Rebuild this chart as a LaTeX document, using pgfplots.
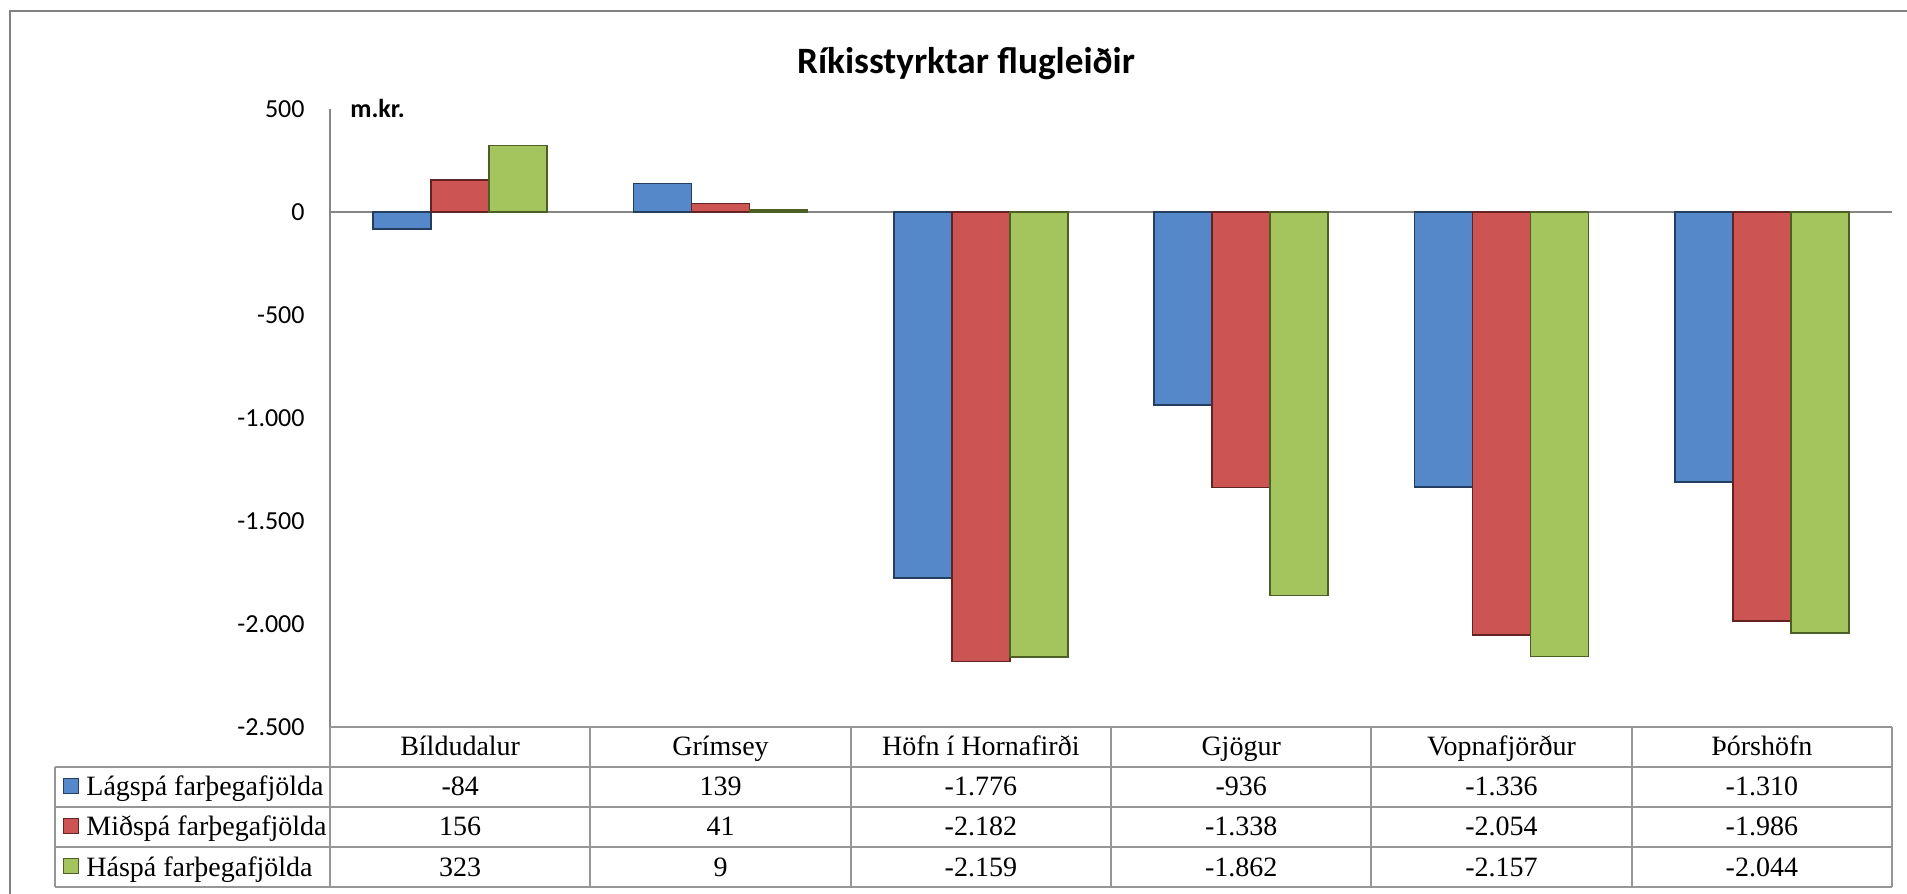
\documentclass[border=0pt]{standalone}
\usepackage{pgfplots}
\pgfplotsset{compat=1.18}
\usepackage{fontspec}
\setmainfont{Liberation Serif}
\newfontfamily\carlito{Carlito}

\definecolor{lagblue}{RGB}{84,136,200}
\definecolor{lagblueD}{RGB}{36,62,96}
\definecolor{midred}{RGB}{204,84,82}
\definecolor{midredD}{RGB}{98,36,34}
\definecolor{hagreen}{RGB}{164,196,94}
\definecolor{hagreenD}{RGB}{76,96,38}
\definecolor{axisgray}{RGB}{134,134,134}
\definecolor{tablegray}{RGB}{150,150,150}
\definecolor{framegray}{RGB}{128,128,128}

\newcommand{\tabfont}{\fontsize{14}{16}\selectfont}

\begin{document}
\begin{tikzpicture}[x=1pt,y=1pt]
\useasboundingbox (-165,-83.5) rectangle (788.5,363.5);
% outer chart frame (only left and top edge visible)
\draw[framegray, line width=1.3pt] (-160,-100) -- (-160,358) -- (800,358);

\begin{axis}[
    at={(0,0)}, anchor=south west,
    scale only axis,
    width=781pt, height=309pt,
    xmin=-0.5, xmax=5.5,
    ymin=-2500, ymax=500,
    ybar=0pt, bar width=29pt,
    axis x line=middle,
    axis y line=left,
    axis line style={draw=axisgray, line width=0.8pt, -},
    xtick=\empty,
    ytick={-2500,-2000,-1500,-1000,-500,0,500},
    yticklabels={-2.500,-2.000,-1.500,-1.000,-500,0,500},
    major tick length=0pt,
    ytick style={draw=none},
    yticklabel style={font=\carlito\fontsize{13}{15}\selectfont, inner sep=0pt, anchor=east, xshift=-12.5pt},
    clip=false,
]
\addplot[fill=lagblue, draw=lagblueD, line width=0.8pt] coordinates
    {(0,-84) (1,139) (2,-1776) (3,-936) (4,-1336) (5,-1310)};
\addplot[fill=midred, draw=midredD, line width=0.8pt] coordinates
    {(0,156) (1,41) (2,-2182) (3,-1338) (4,-2054) (5,-1986)};
\addplot[fill=hagreen, draw=hagreenD, line width=0.8pt] coordinates
    {(0,323) (1,9) (2,-2159) (3,-1862) (4,-2157) (5,-2044)};
\end{axis}

% title and unit
\node[anchor=base, font=\carlito\bfseries\fontsize{18.6}{22}\selectfont] at (318,326.5) {Ríkisstyrktar flugleiðir};
\node[anchor=base west, inner sep=0pt, font=\carlito\bfseries\fontsize{13}{15}\selectfont] at (10,304.5) {m.kr.};

% data table
\begin{scope}[tablegray, line width=1pt]
  \draw (0,0) -- (781,0);
  \foreach \r in {20,40,60,80} \draw (-137.5,-\r) -- (781,-\r);
  \foreach \k in {0,...,6} \draw ({\k*130.1667},0) -- ({\k*130.1667},-80);
  \draw (-137.5,-20) -- (-137.5,-80);
\end{scope}

\foreach \k/\name in {0/Bíldudalur,1/Grímsey,2/Höfn í Hornafirði,3/Gjögur,4/Vopnafjörður,5/Þórshöfn}
  \node[anchor=base, inner sep=0pt, font=\tabfont] at ({(\k+0.5)*130.1667},-14.5) {\name};

\foreach \k/\v in {0/-84,1/139,2/-1.776,3/-936,4/-1.336,5/-1.310}
  \node[anchor=base, inner sep=0pt, font=\tabfont] at ({(\k+0.5)*130.1667},-34.5) {\v};
\foreach \k/\v in {0/156,1/41,2/-2.182,3/-1.338,4/-2.054,5/-1.986}
  \node[anchor=base, inner sep=0pt, font=\tabfont] at ({(\k+0.5)*130.1667},-54.5) {\v};
\foreach \k/\v in {0/323,1/9,2/-2.159,3/-1.862,4/-2.157,5/-2.044}
  \node[anchor=base, inner sep=0pt, font=\tabfont] at ({(\k+0.5)*130.1667},-74.5) {\v};

% legend keys
\foreach \r/\c/\d/\lab in {1/lagblue/lagblueD/Lágspá farþegafjölda,2/midred/midredD/Miðspá farþegafjölda,3/hagreen/hagreenD/Háspá farþegafjölda}{
  \filldraw[fill=\c, draw=\d, line width=0.5pt] (-133,{-20*\r-13.5}) rectangle (-125.5,{-20*\r-6});
  \node[anchor=base west, inner sep=0pt, font=\tabfont] at (-122,{-20*\r-14.5}) {\lab};
}
\end{tikzpicture}
\end{document}
